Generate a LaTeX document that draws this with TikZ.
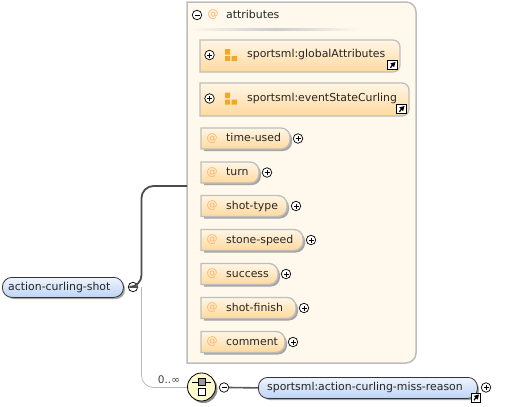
\documentclass[tikz,border=0pt]{standalone}
\usepackage{fontspec}
\setmainfont{DejaVu Sans}
\usetikzlibrary{arrows.meta,calc,shapes.geometric}
\definecolor{boxedge}{RGB}{190,190,186}
\definecolor{boxfill}{RGB}{255,248,236}
\definecolor{orangetop}{RGB}{255,246,230}
\definecolor{orangebot}{RGB}{255,217,158}
\definecolor{bluetop}{RGB}{238,244,253}
\definecolor{bluebot}{RGB}{190,212,245}
\definecolor{symb}{RGB}{243,167,40}
\definecolor{seqfill}{RGB}{255,250,205}
\tikzset{
  x=1pt,y=-1pt,
  lab/.style={font=\fontsize{10.9}{12}\selectfont,inner sep=0pt,anchor=west,text=black!85,text height=7pt,text depth=2pt,yshift=-.7pt},
  pm/.style={circle,draw=black,line width=.7pt,fill=white,minimum size=9.5pt,inner sep=0pt},
  atsign/.style={font=\fontsize{11}{12}\selectfont,text=orange!60,inner sep=0pt},
  link/.style={draw=black,fill=white,line width=1pt},
  attrshape/.style={draw=boxedge,line width=1.3pt,top color=orangetop,bottom color=orangebot},
  shadowshape/.style={fill=black!35,draw=none},
}
\newcommand{\plusmark}[2]{\node[pm] (#1) at (#2) {};
  \draw[line width=.7pt] ($(#1)+(-2.5,0)$) -- ($(#1)+(2.5,0)$) ($(#1)+(0,-2.5)$) -- ($(#1)+(0,2.5)$);}
\newcommand{\minusmark}[2]{\node[pm] (#1) at (#2) {};
  \draw[line width=.7pt] ($(#1)+(-2.5,0)$) -- ($(#1)+(2.5,0)$);}
\newcommand{\attrrow}[5]{% name, ycentre, xright, text, plusx
  \fill[shadowshape] (204,#2-8) [rounded corners=9pt] -- (#3+2,#2-8) -- (#3+2,#2+12.5) [rounded corners=0pt] -- (204,#2+12.5) -- cycle;
  \path[attrshape] (201,#2-10.5) [rounded corners=9pt] -- (#3,#2-10.5) -- (#3,#2+10.5) [rounded corners=0pt] -- (201,#2+10.5) -- cycle;
  \node[atsign] at (212,#2) {@};
  \node[lab] (#1) at (226,#2) {#4};
  \plusmark{#1p}{#5,#2}}
\newcommand{\grouprow}[5]{% name, ytop, ybottom, xright, text
  \path[attrshape] (200,#2) [rounded corners=7pt] -- (#4,#2) -- (#4,#3) [rounded corners=0pt] -- (200,#3) -- cycle;
  \plusmark{#1p}{209.5,{(#2+#3)/2-1}}
  \fill[symb] (225,{(#2+#3)/2-7}) rectangle +(5,5.5) (225,{(#2+#3)/2}) rectangle +(5,5) (231.5,{(#2+#3)/2}) rectangle +(5.5,5);
  \node[lab] (#1) at (247,{(#2+#3)/2-1.5}) {#5};
  \node[link,minimum size=9.5pt,inner sep=0pt] (#1t) at (#4-7.5,#3-7) {};
  \fill[black] ($(#1t)+(-2.5,2.5)$) -- ($(#1t)+(-0.8,-0.2)$) -- ($(#1t)+(-2.2,-1.6)$) -- ($(#1t)+(3,-3)$) -- ($(#1t)+(1.6,2.2)$) -- ($(#1t)+(.2,.8)$) -- ($(#1t)+(-1.5,3)$) -- cycle;}
\begin{document}
\begin{tikzpicture}
\useasboundingbox (0,0) rectangle (509,407);
\fill[white] (0,0) rectangle (509,407);
% main box
\path[draw=boxedge,line width=1.5pt,fill=boxfill] (187,2) [rounded corners=10pt] -- (416,2) -- (416,363) [rounded corners=0pt] -- (187,363) -- cycle;
\minusmark{attrm}{197,15}
\node[atsign] at (213,15) {@};
\node[lab] (attrs) at (226,15) {attributes};
\shade[left color=boxfill,right color=boxfill,middle color=black!20] (190,28.5) rectangle (360,30);
\grouprow{ga}{40}{72}{400}{sportsml:globalAttributes}
\grouprow{es}{83}{116}{409}{sportsml:eventStateCurling}
\attrrow{a1}{138.5}{290}{time-used}{298}
\attrrow{a2}{172.5}{259}{turn}{267}
\attrrow{a3}{206}{287}{shot-type}{296}
\attrrow{a4}{240}{303}{stone-speed}{311}
\attrrow{a5}{274}{278}{success}{286}
\attrrow{a6}{308}{296}{shot-finish}{304}
\attrrow{a7}{342}{285}{comment}{293}
% root
\fill[black!35] (5,279.5) [rounded corners=9pt] -- (5,299) -- (125,299) -- (125,279.5) -- cycle;
\node[draw=black!80,line width=.8pt,top color=bluetop,bottom color=bluebot,rounded corners=9.5pt,minimum width=121pt,minimum height=20pt,inner sep=0pt,anchor=north west] (rootbox) at (2,277) {};
\node[lab] (root) at (8,287) {action-curling-shot};
\minusmark{rootm}{133,287}
% connectors
\coordinate (thickend) at (187,186);
\coordinate (thinend) at (187,387.5);
\draw[line width=.7pt,black!28,rounded corners=12pt] (141.5,287) -- (141.5,387.5) -- (thinend);
\draw[line width=1.8pt,black!70,rounded corners=12pt] (rootm.east) -- (141.5,287) -- (141.5,186) -- (thickend);
\node[font=\fontsize{10.5}{12}\selectfont,inner sep=0pt,text=black!75] (occ) at (169,380) {0..∞};
% sequence
\fill[black!45] (203.5,389) circle[radius=14];
\node[draw=black,line width=.8pt,fill=seqfill,circle,minimum size=28pt,inner sep=0pt] (seq) at (201.5,387) {};
\draw[line width=.8pt] (192,382) -- (211,382);
\node[draw=black,fill=black!40,minimum size=7pt,inner sep=0pt,line width=.5pt] (s1) at (201.5,382) {};
\node[draw=black,fill=white,minimum size=7pt,inner sep=0pt,line width=.5pt] (s2) at (201.5,392) {};
\minusmark{seqm}{224,387.5}
% target
\fill[black!35] (261,380) [rounded corners=9pt] -- (261,400) -- (479,400) -- (479,380) -- cycle;
\node[draw=black!80,line width=.8pt,top color=bluetop,bottom color=bluebot,rounded corners=9.5pt,minimum width=219pt,minimum height=21pt,inner sep=0pt,anchor=north west] (reasonbox) at (258,377) {};
\node[lab] (reason) at (267,387) {sportsml:action-curling-miss-reason};
\draw[line width=1.6pt,black!65] (seqm.east) -- (reasonbox.west);
\node[link,minimum size=9pt,inner sep=0pt] (rt) at (476,397.5) {};
\fill[black] ($(rt)+(-2.5,2.5)$) -- ($(rt)+(-0.8,-0.2)$) -- ($(rt)+(-2.2,-1.6)$) -- ($(rt)+(3,-3)$) -- ($(rt)+(1.6,2.2)$) -- ($(rt)+(.2,.8)$) -- ($(rt)+(-1.5,3)$) -- cycle;
\plusmark{reasonp}{486,387.5}
\end{tikzpicture}
\end{document}
